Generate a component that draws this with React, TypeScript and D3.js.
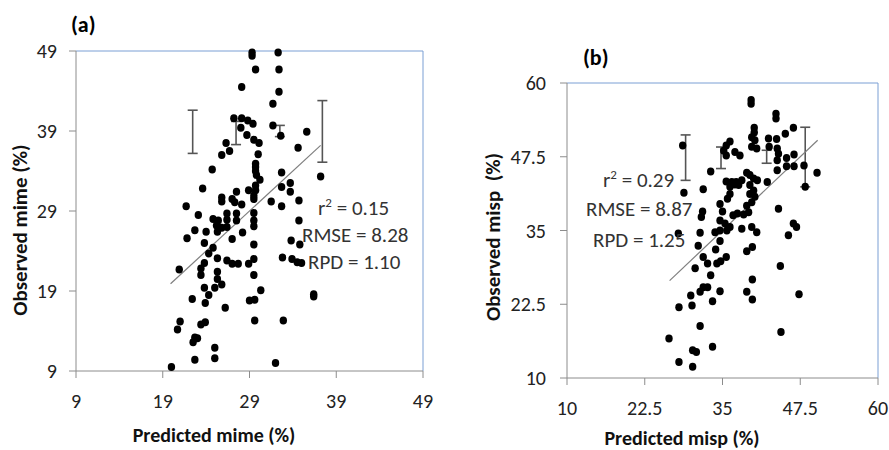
import React from "react";
import * as d3 from "d3";

// Panel (a): mime, predicted vs observed
const mimePredicted = [
  29.3, 29.3, 32.3, 29.7, 32.4, 28.1, 32.4, 31.7, 27.2, 28.1, 28.8, 29.4, 28.0, 28.7, 29.5, 30.1,
  31.7, 32.6, 35.6, 26.3, 26.7, 25.8, 30.0, 34.6, 29.7, 29.7, 29.7, 29.8, 30.2, 24.7, 32.7, 37.2,
  33.7, 33.7, 32.7, 23.6, 29.7, 29.7, 28.9, 27.5, 25.8, 25.8, 27.0, 27.3, 28.1, 29.5, 29.5, 31.5,
  32.7, 34.7, 21.7, 23.1, 26.4, 27.5, 29.5, 24.8, 25.4, 26.4, 27.5, 29.5, 29.5, 25.2, 25.8, 26.4,
  22.7, 24.0, 25.3, 28.2, 21.8, 23.8, 27.0, 34.7, 33.8, 34.8, 29.5, 24.8, 24.3, 32.8, 33.9, 34.5,
  35.0, 25.3, 26.4, 27.0, 27.7, 28.9, 29.5, 23.8, 23.4, 20.9, 23.4, 25.3, 25.3, 25.8, 29.5, 23.8,
  25.0, 24.3, 30.3, 22.4, 23.9, 29.0, 29.6, 36.4, 36.4, 26.2, 29.6, 32.9, 21.0, 20.7, 23.4, 23.9,
  22.7, 23.0, 22.5, 25.0, 25.0, 22.7, 32.0, 20.0,
];
const mimeObserved = [
  48.8, 48.4, 48.8, 46.7, 46.7, 44.5, 43.9, 42.4, 40.6, 40.6, 40.3, 39.9, 39.4, 38.5, 37.9, 37.5,
  39.7, 38.4, 38.9, 37.5, 36.5, 36.0, 36.1, 36.9, 34.9, 34.5, 34.0, 33.5, 32.9, 34.2, 33.8, 33.3,
  32.5, 31.4, 32.0, 31.8, 32.2, 31.6, 31.6, 31.4, 30.7, 30.2, 30.5, 30.1, 29.8, 30.9, 30.5, 30.2,
  29.6, 30.3, 29.6, 28.5, 28.7, 28.7, 28.75, 28.0, 27.8, 27.9, 27.8, 27.8, 27.1, 27.2, 26.9, 27.0,
  26.6, 26.4, 26.4, 26.3, 25.6, 25.0, 25.5, 27.8, 25.3, 24.8, 24.8, 24.4, 23.7, 23.2, 23.0, 22.6,
  22.5, 23.1, 22.8, 22.4, 22.4, 22.4, 23.0, 22.5, 21.8, 21.7, 21.0, 21.4, 20.5, 19.8, 21.0, 19.4,
  19.4, 18.5, 19.1, 18.0, 17.5, 17.8, 17.9, 18.6, 18.3, 16.9, 15.3, 15.3, 15.2, 14.2, 14.8, 15.1,
  13.2, 13.1, 12.6, 11.9, 10.6, 10.4, 10.0, 9.5,
];
const mimeErrX = [22.45, 27.45, 32.5, 37.4];
const mimeErrLow = [36.2, 37.3, 38.3, 35.1];
const mimeErrHigh = [41.6, 40.2, 39.7, 42.8];
const mimeFit = [19.9, 37.2];
const mimeTicks = [9, 19, 29, 39, 49];

// Panel (b): misp, predicted vs observed
const mispPredicted = [
  39.6, 39.6, 43.6, 43.6, 46.4, 45.1, 40.1, 40.1, 39.7, 40.2, 39.7, 40.5, 42.4, 43.7, 42.5, 43.8,
  44.0, 43.8, 36.2, 35.6, 35.2, 35.6, 37.0, 37.8, 28.6, 45.3, 46.5, 45.3, 46.5, 48.1, 43.8, 48.3,
  50.2, 33.1, 35.6, 36.5, 37.2, 37.6, 38.1, 38.9, 39.4, 40.0, 40.6, 36.2, 37.0, 42.2, 39.4, 40.0,
  39.4, 40.2, 39.7, 38.9, 39.2, 38.4, 37.4, 36.7, 36.2, 35.8, 34.6, 35.0, 31.9, 28.8, 31.8, 31.6,
  44.0, 46.4, 46.9, 34.6, 35.4, 36.2, 35.7, 38.1, 39.7, 40.5, 31.4, 33.8, 27.9, 34.6, 45.6, 31.1,
  33.9, 34.6, 38.9, 39.8, 31.9, 32.6, 34.1, 34.7, 35.6, 30.6, 44.3, 33.1, 39.8, 31.9, 32.6, 31.4,
  29.9, 34.6, 33.4, 30.1, 28.0, 38.9, 39.8, 47.3, 31.4, 44.4, 26.4, 30.2, 30.8, 33.4, 28.0, 30.2,
];
const mispObserved = [
  57.1, 56.5, 54.8, 54.0, 52.4, 51.4, 52.4, 51.6, 50.8, 50.3, 49.2, 48.9, 50.6, 50.5, 49.2, 48.9,
  48.0, 46.9, 50.1, 49.4, 48.5, 47.7, 48.3, 47.7, 49.4, 47.3, 47.9, 45.9, 45.9, 46.0, 45.2, 42.4,
  44.8, 45.0, 43.3, 43.2, 43.2, 42.7, 43.5, 44.8, 44.4, 43.8, 43.5, 42.4, 42.8, 43.2, 42.7, 41.8,
  41.2, 40.7, 39.8, 39.2, 38.1, 37.7, 37.9, 37.6, 41.2, 40.4, 39.5, 38.2, 42.0, 41.4, 38.2, 37.3,
  38.7, 36.2, 35.6, 36.7, 36.2, 35.6, 35.0, 35.3, 35.6, 34.7, 34.6, 34.7, 34.5, 35.0, 34.2, 32.4,
  31.8, 33.2, 31.5, 32.2, 30.5, 29.4, 29.4, 29.8, 30.5, 28.6, 29.0, 27.4, 26.7, 25.4, 25.4, 24.6,
  24.0, 24.7, 23.0, 22.3, 22.0, 24.6, 23.3, 24.2, 18.8, 17.8, 16.7, 14.7, 14.4, 15.3, 12.7, 11.9,
];
const mispErrX = [29.07, 34.76, 42.1, 48.3];
const mispErrLow = [43.5, 45.5, 46.4, 42.4];
const mispErrHigh = [51.2, 49.15, 48.6, 52.5];
const mispFit = [26.5, 50.3];
const mispTicks = [10, 22.5, 35, 47.5, 60];

const FONT = "Carlito, Lato, 'Open Sans', sans-serif";
const AXIS_GRAY = "#8c8c8c";
const FRAME_BLUE = "#7a9fd4";

type PanelProps = {
  label: string;
  labelPos: [number, number];
  box: { left: number; top: number; right: number; bottom: number };
  domain: [number, number];
  ticks: number[];
  xs: number[];
  ys: number[];
  errX: number[];
  errLow: number[];
  errHigh: number[];
  fit: number[];
  capHalf: number;
  yTitle: string;
  yTitlePos: [number, number];
  xTitle: string;
  xTitlePos: [number, number];
  yTickRight: number;
  xTickBaseline: number;
  stats: { r2: string; rmse: string; rpd: string };
  statsPos: [number, number][];
};

function Panel(p: PanelProps) {
  const x = d3.scaleLinear().domain(p.domain).range([p.box.left, p.box.right]);
  const y = d3.scaleLinear().domain(p.domain).range([p.box.bottom, p.box.top]);
  const line = d3.line<number>().x((v) => x(v)).y((v) => y(v));
  const fmt = (v: number) => String(v);
  return (
    <g>
      <text x={p.labelPos[0]} y={p.labelPos[1]} fontFamily={FONT} fontWeight="bold" fontSize={22} fill="#000">
        {p.label}
      </text>
      {/* plot frame: blue top/right, gray axes */}
      <line x1={p.box.left} x2={p.box.right} y1={p.box.top} y2={p.box.top} stroke={FRAME_BLUE} strokeWidth={1} />
      <line x1={p.box.right} x2={p.box.right} y1={p.box.top} y2={p.box.bottom} stroke={FRAME_BLUE} strokeWidth={1} />
      <line x1={p.box.left} x2={p.box.left} y1={p.box.top} y2={p.box.bottom} stroke={AXIS_GRAY} strokeWidth={1} />
      <line x1={p.box.left} x2={p.box.right} y1={p.box.bottom} y2={p.box.bottom} stroke={AXIS_GRAY} strokeWidth={1} />
      {p.ticks.map((t) => (
        <g key={"y" + t}>
          <line x1={p.box.left - 7} x2={p.box.left} y1={y(t)} y2={y(t)} stroke={AXIS_GRAY} />
          <text x={p.yTickRight} y={y(t) + 7} textAnchor="end" fontFamily={FONT} fontSize={20} fill="#222">
            {fmt(t)}
          </text>
        </g>
      ))}
      {p.ticks.map((t) => (
        <g key={"x" + t}>
          <line x1={x(t)} x2={x(t)} y1={p.box.bottom} y2={p.box.bottom + 7} stroke={AXIS_GRAY} />
          <text x={x(t)} y={p.xTickBaseline} textAnchor="middle" fontFamily={FONT} fontSize={20} fill="#222">
            {fmt(t)}
          </text>
        </g>
      ))}
      <text
        transform={`translate(${p.yTitlePos[0]},${p.yTitlePos[1]}) rotate(-90)`}
        textAnchor="middle"
        dominantBaseline="central"
        fontFamily={FONT}
        fontWeight="bold"
        fontSize={21}
        fill="#111"
        style={{ whiteSpace: "pre" }}
      >
        {p.yTitle}
      </text>
      <text
        x={p.xTitlePos[0]}
        y={p.xTitlePos[1]}
        textAnchor="middle"
        dominantBaseline="central"
        fontFamily={FONT}
        fontWeight="bold"
        fontSize={20}
        fill="#111"
      >
        {p.xTitle}
      </text>
      {/* error bars */}
      {p.errX.map((ex, i) => (
        <g key={"e" + i} stroke="#555" strokeWidth={1.6}>
          <line x1={x(ex)} x2={x(ex)} y1={y(p.errLow[i])} y2={y(p.errHigh[i])} />
          <line x1={x(ex) - p.capHalf} x2={x(ex) + p.capHalf} y1={y(p.errLow[i])} y2={y(p.errLow[i])} />
          <line x1={x(ex) - p.capHalf} x2={x(ex) + p.capHalf} y1={y(p.errHigh[i])} y2={y(p.errHigh[i])} />
        </g>
      ))}
      {/* 1:1 fit line */}
      <path d={line(p.fit) || ""} stroke="#7f7f7f" strokeWidth={1.2} fill="none" />
      {p.xs.map((v, i) => (
        <ellipse key={"d" + i} cx={x(v)} cy={y(p.ys[i])} rx={3.7} ry={4} fill="#000" />
      ))}
      <text x={p.statsPos[0][0]} y={p.statsPos[0][1]} fontFamily={FONT} fontSize={21} fill="#333">
        r<tspan fontSize={13} dy={-8}>2</tspan>
        <tspan dy={8}>{" = " + p.stats.r2}</tspan>
      </text>
      <text x={p.statsPos[1][0]} y={p.statsPos[1][1]} fontFamily={FONT} fontSize={21} fill="#333">
        {"RMSE = " + p.stats.rmse}
      </text>
      <text x={p.statsPos[2][0]} y={p.statsPos[2][1]} fontFamily={FONT} fontSize={21} fill="#333">
        {"RPD = " + p.stats.rpd}
      </text>
    </g>
  );
}

export default function App() {
  return (
    <svg width={889} height={450} style={{ position: "absolute", left: 0, top: 0, background: "#fff" }}>
      <rect width={889} height={450} fill="#fff" />
      <Panel
        label="(a)"
        labelPos={[71, 32]}
        box={{ left: 76, top: 51, right: 423, bottom: 371 }}
        domain={[9, 49]}
        ticks={mimeTicks}
        xs={mimePredicted}
        ys={mimeObserved}
        errX={mimeErrX}
        errLow={mimeErrLow}
        errHigh={mimeErrHigh}
        fit={mimeFit}
        capHalf={5}
        yTitle="Observed mime (%)"
        yTitlePos={[20, 230]}
        xTitle="Predicted mime (%)"
        xTitlePos={[214, 435]}
        yTickRight={57}
        xTickBaseline={408}
        stats={{ r2: "0.15", rmse: "8.28", rpd: "1.10" }}
        statsPos={[[318, 215], [302, 242], [308, 269]]}
      />
      <Panel
        label="(b)"
        labelPos={[583, 65]}
        box={{ left: 567, top: 83, right: 878, bottom: 378 }}
        domain={[10, 60]}
        ticks={mispTicks}
        xs={mispPredicted}
        ys={mispObserved}
        errX={mispErrX}
        errLow={mispErrLow}
        errHigh={mispErrHigh}
        fit={mispFit}
        capHalf={5}
        yTitle="Observed misp  (%)"
        yTitlePos={[493, 237]}
        xTitle="Predicted misp (%)"
        xTitlePos={[682, 438]}
        yTickRight={546}
        xTickBaseline={415}
        stats={{ r2: "0.29", rmse: "8.87", rpd: "1.25" }}
        statsPos={[[603, 187], [586, 216], [593, 247]]}
      />
    </svg>
  );
}
